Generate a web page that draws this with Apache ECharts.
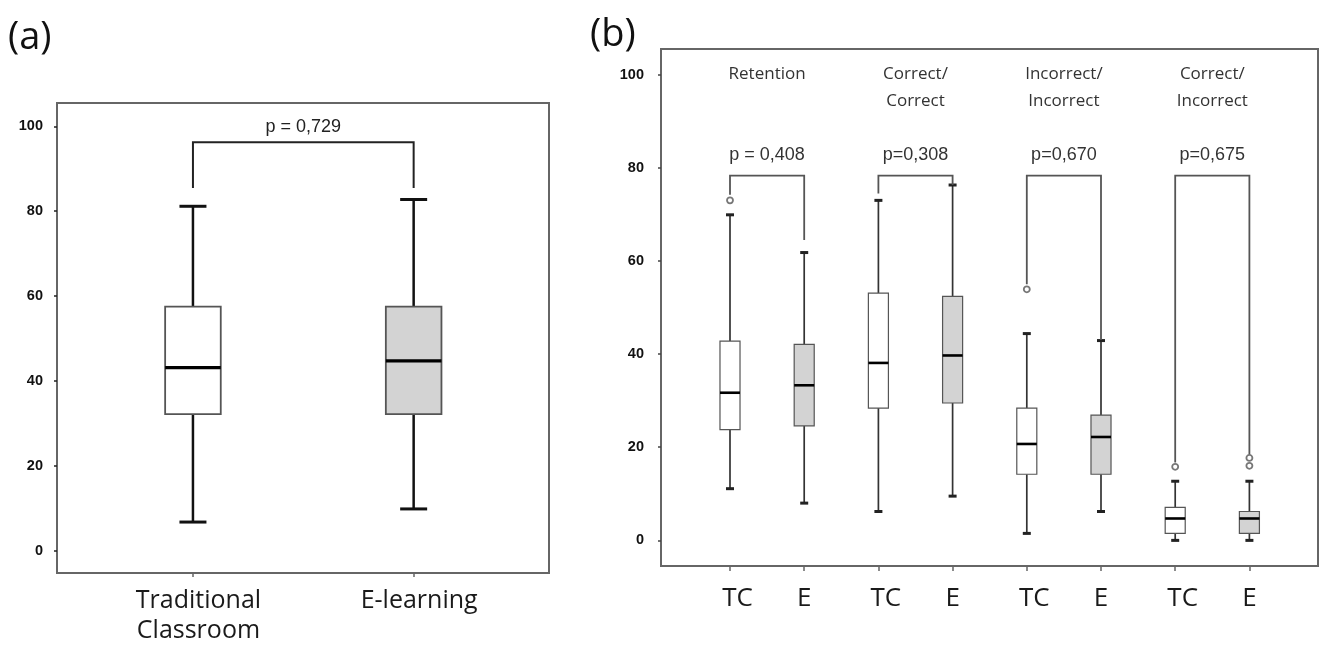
<!DOCTYPE html>
<html><head><meta charset="utf-8">
<script src="https://cdn.jsdelivr.net/npm/echarts@6/dist/echarts.min.js"></script>
<style>html,body{margin:0;padding:0;background:#fff}#c{width:1320px;height:646px}</style>
</head><body><div id="c"></div>
<script>
// ---------- Panel (a) data ----------
const catsA = ['Traditional\nClassroom', 'E-learning'];
const lowA  = [6.5, 9.6];
const q1A   = [32.0, 32.0];
const medA  = [43.0, 44.6];
const q3A   = [57.4, 57.4];
const highA = [81.1, 82.7];
const pValueA = 'p = 0,729';
const bracketYA = 96.2;
const legEndA = [85.4, 85.4];
const pTextYA = 99.9;

// ---------- Panel (b) data ----------
const catsB = ['TC', 'E', 'TC', 'E', 'TC', 'E', 'TC', 'E'];
const groupsB = [['Retention'], ['Correct/', 'Correct'], ['Incorrect/', 'Incorrect'], ['Correct/', 'Incorrect']];
const lowB  = [11.1, 8.0, 6.2, 9.5, 1.5, 6.2, 0.0, 0.0];
const q1B   = [23.8, 24.6, 28.4, 29.5, 14.2, 14.2, 1.5, 1.5];
const medB  = [31.7, 33.3, 38.1, 39.7, 20.7, 22.2, 4.7, 4.7];
const q3B   = [42.8, 42.1, 53.1, 52.4, 28.4, 26.9, 7.1, 6.2];
const highB = [69.9, 61.8, 73.0, 76.3, 44.4, 42.9, 12.7, 12.7];
const outlierCatB = [0, 4, 6, 7, 7];
const outlierValB = [73.0, 53.9, 15.8, 16.0, 17.7];
const pValuesB = ['p = 0,408', 'p=0,308', 'p=0,670', 'p=0,675'];
const bracketYB = 78.3;
const legEndLeftB  = [74.2, 74.5, 55.0, 16.7];
const legEndRightB = [64.5, 76.3, 43.0, 18.5];
const pTextYB = 82.7;
const headerYB = 100;

const yTicks = [0, 20, 40, 60, 80, 100];

// ---------- helpers ----------
function makeBox(st) {
  return function (params, api) {
    const i = api.value(0);
    const c = v => api.coord([i, v]);
    const band = api.size([1, 0])[0];
    const bw = band * st.boxRatio;
    const x = c(0)[0];
    const yLow = c(api.value(1))[1], yQ1 = c(api.value(2))[1], yMed = c(api.value(3))[1],
          yQ3 = c(api.value(4))[1], yHigh = c(api.value(5))[1];
    const fill = i % 2 === 1 ? '#d3d3d3' : '#ffffff';
    const ws = { stroke: st.whisker, lineWidth: st.whiskerW };
    const cs = { stroke: st.capColor, lineWidth: st.capW };
    return { type: 'group', children: [
      { type: 'line', shape: { x1: x, y1: yQ1, x2: x, y2: yLow }, style: ws },
      { type: 'line', shape: { x1: x, y1: yQ3, x2: x, y2: yHigh }, style: ws },
      { type: 'line', shape: { x1: x - st.cap / 2, y1: yLow, x2: x + st.cap / 2, y2: yLow }, style: cs },
      { type: 'line', shape: { x1: x - st.cap / 2, y1: yHigh, x2: x + st.cap / 2, y2: yHigh }, style: cs },
      { type: 'rect', shape: { x: x - bw / 2, y: yQ3, width: bw, height: yQ1 - yQ3 }, style: { fill: fill, stroke: st.boxStroke, lineWidth: st.boxW } },
      { type: 'line', shape: { x1: x - bw / 2, y1: yMed, x2: x + bw / 2, y2: yMed }, style: { stroke: '#000', lineWidth: st.medW } }
    ]};
  };
}
function makeBracket(st, texts) {
  return function (params, api) {
    const l = api.value(0), r = api.value(1);
    const pL = api.coord([l, api.value(2)]);
    const pR = api.coord([r, api.value(2)]);
    const yL = api.coord([l, api.value(3)])[1];
    const yR = api.coord([r, api.value(4)])[1];
    const yT = api.coord([l, api.value(5)])[1];
    return { type: 'group', children: [
      { type: 'polyline', shape: { points: [[pL[0], yL], [pL[0], pL[1]], [pR[0], pR[1]], [pR[0], yR]] },
        style: { stroke: st.color, lineWidth: st.width, fill: null } },
      { type: 'text', x: (pL[0] + pR[0]) / 2, y: yT,
        style: { text: texts[params.dataIndex], font: st.font, fill: st.textColor, align: 'center', verticalAlign: 'middle' } }
    ]};
  };
}
function headerRender(params, api) {
  const l = api.value(0), r = api.value(1);
  const pL = api.coord([l, api.value(2)]);
  const pR = api.coord([r, api.value(2)]);
  const lines = groupsB[params.dataIndex];
  return { type: 'group', children: lines.map((t, k) => ({
    type: 'text', x: (pL[0] + pR[0]) / 2, y: pL[1] + k * 27,
    style: { text: t, font: '17px "Open Sans"', fill: '#333', align: 'center', verticalAlign: 'middle' }
  }))};
}

const yLabelStyle = { fontSize: 14.5, fontWeight: 'bold', color: '#111', fontFamily: 'Liberation Sans, Arial' };

const option = {
  backgroundColor: '#fff',
  animation: false,
  title: [
    { text: '(a)', left: 3, top: 14, textStyle: { fontSize: 38, fontWeight: 'normal', color: '#111', fontFamily: 'Open Sans' } },
    { text: '(b)', left: 585, top: 11, textStyle: { fontSize: 38, fontWeight: 'normal', color: '#111', fontFamily: 'Open Sans' } }
  ],
  grid: [
    { left: 57, top: 103, width: 492, height: 470, show: true, borderColor: '#666', borderWidth: 2 },
    { left: 82.6, top: 103, width: 441.4, height: 470 },
    { left: 661, top: 49, width: 657, height: 517, show: true, borderColor: '#666', borderWidth: 2 },
    { left: 692.9, top: 49, width: 593.6, height: 517 }
  ],
  xAxis: [
    { gridIndex: 0, type: 'value', show: false },
    { gridIndex: 1, type: 'category', position: 'bottom', data: catsA.map(c => ({ value: c, textStyle: { padding: [0, 0, 0, 11] } })),
      axisLine: { show: false, onZero: false },
      axisTick: { show: true, alignWithLabel: true, length: 5, lineStyle: { color: '#666', width: 1.5 } },
      axisLabel: { fontSize: 25, fontFamily: 'Open Sans', color: '#1a1a1a', margin: 14, lineHeight: 30, interval: 0 } },
    { gridIndex: 2, type: 'value', show: false },
    { gridIndex: 3, type: 'category', position: 'bottom', data: catsB.map(c => c === 'TC' ? { value: c, textStyle: { padding: [0, 0, 0, 15] } } : c),
      axisLine: { show: false, onZero: false },
      axisTick: { show: true, alignWithLabel: true, length: 5, lineStyle: { color: '#666', width: 1.5 } },
      axisLabel: { fontSize: 26, fontFamily: 'Open Sans', color: '#1a1a1a', margin: 20, interval: 0 } }
  ],
  yAxis: [
    { gridIndex: 0, type: 'value', min: -5.3, max: 105.5, axisLine: { show: false }, splitLine: { show: false },
      axisTick: { show: true, length: 3, customValues: yTicks, lineStyle: { color: '#222', width: 1.5 } },
      axisLabel: Object.assign({ customValues: yTicks, margin: 14 }, yLabelStyle) },
    { gridIndex: 1, type: 'value', min: -5.3, max: 105.5, show: false },
    { gridIndex: 2, type: 'value', min: -5.5, max: 105.5, axisLine: { show: false }, splitLine: { show: false },
      axisTick: { show: true, length: 3, customValues: yTicks, lineStyle: { color: '#444', width: 1.5 } },
      axisLabel: Object.assign({ customValues: yTicks, margin: 17 }, yLabelStyle) },
    { gridIndex: 3, type: 'value', min: -5.5, max: 105.5, show: false }
  ],
  series: [
    { type: 'custom', name: 'boxA', xAxisIndex: 1, yAxisIndex: 1, z: 3,
      renderItem: makeBox({ boxRatio: 0.252, cap: 27, whisker: '#111', whiskerW: 2.5, capColor: '#111', capW: 3, boxStroke: '#555', boxW: 1.8, medW: 3.2 }),
      encode: { x: 0, y: [1, 2, 3, 4, 5] },
      data: catsA.map((c, i) => [i, lowA[i], q1A[i], medA[i], q3A[i], highA[i]]) },
    { type: 'custom', name: 'bracketA', xAxisIndex: 1, yAxisIndex: 1, z: 4,
      renderItem: makeBracket({ color: '#222', width: 2, font: '18px "Liberation Sans", Arial', textColor: '#222' }, [pValueA]),
      encode: { x: [0, 1], y: [2, 3, 4, 5] },
      data: [[0, 1, bracketYA, legEndA[0], legEndA[1], pTextYA]] },
    { type: 'custom', name: 'boxB', xAxisIndex: 3, yAxisIndex: 3, z: 3,
      renderItem: makeBox({ boxRatio: 0.27, cap: 8, whisker: '#333', whiskerW: 1.7, capColor: '#222', capW: 3, boxStroke: '#555', boxW: 1.2, medW: 2.6 }),
      encode: { x: 0, y: [1, 2, 3, 4, 5] },
      data: catsB.map((c, i) => [i, lowB[i], q1B[i], medB[i], q3B[i], highB[i]]) },
    { type: 'scatter', name: 'outliersB', xAxisIndex: 3, yAxisIndex: 3, z: 4,
      symbol: 'circle', symbolSize: 6,
      itemStyle: { color: '#fff', borderColor: '#555', borderWidth: 1.8 },
      data: outlierCatB.map((c, i) => [c, outlierValB[i]]) },
    { type: 'custom', name: 'bracketB', xAxisIndex: 3, yAxisIndex: 3, z: 4,
      renderItem: makeBracket({ color: '#555', width: 1.8, font: '18px "Liberation Sans", Arial', textColor: '#333' }, pValuesB),
      encode: { x: [0, 1], y: [2, 3, 4, 5] },
      data: pValuesB.map((p, g) => [2 * g, 2 * g + 1, bracketYB, legEndLeftB[g], legEndRightB[g], pTextYB]) },
    { type: 'custom', name: 'headersB', xAxisIndex: 3, yAxisIndex: 3, z: 4,
      renderItem: headerRender,
      encode: { x: [0, 1], y: 2 },
      data: groupsB.map((g, k) => [2 * k, 2 * k + 1, headerYB]) }
  ]
};
const chart = echarts.init(document.getElementById('c'));
chart.setOption(option);
</script>
</body></html>
